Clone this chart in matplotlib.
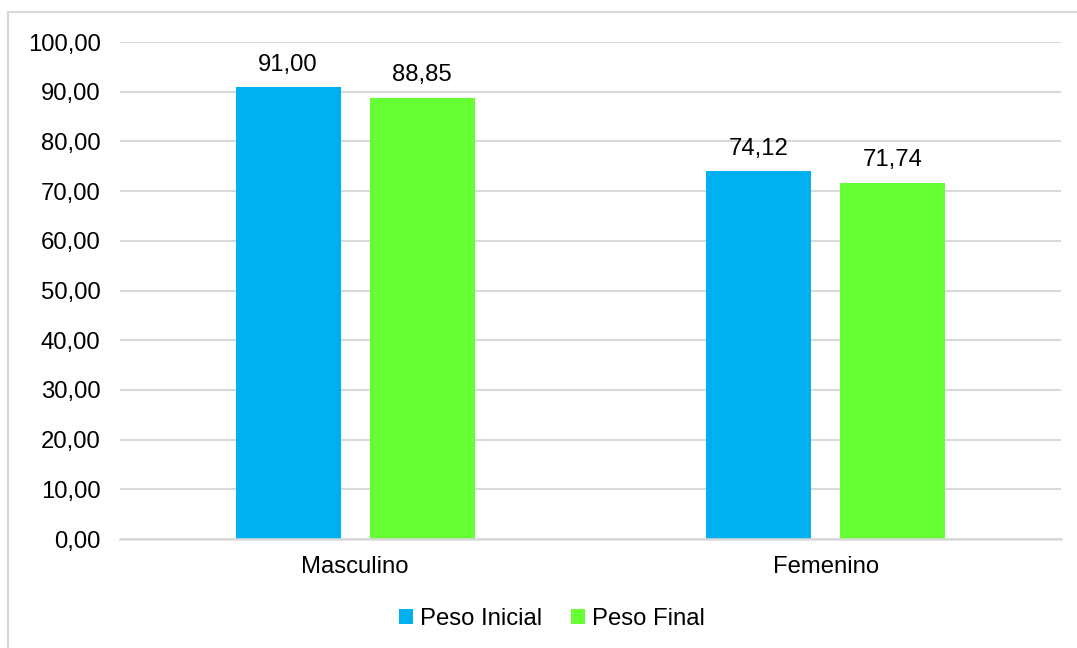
import matplotlib.pyplot as plt
import numpy as np
from matplotlib.patches import Rectangle

plt.rcParams['font.family'] = ['Liberation Sans', 'DejaVu Sans']

categorias = ['Masculino', 'Femenino']
peso_inicial = [91.00, 74.12]
peso_final = [88.85, 71.74]
series = ['Peso Inicial', 'Peso Final']
colores = ['#00B0F0', '#66FF33']


def fmt(v):
    return f'{v:.2f}'.replace('.', ',')


fig = plt.figure(figsize=(10.77, 6.48), dpi=100)
ax = fig.add_axes([0.1114, 0.1682, 0.8736, 0.7668])

# marco gris del grafico
fig.patches.append(Rectangle((8 / 1077, -0.01), 1.1, 1 - 12 / 648 + 0.01,
                             transform=fig.transFigure, fill=False,
                             edgecolor='#D9D9D9', linewidth=1.5))

x = np.arange(len(categorias))
ancho = 0.223
sep = 0.062
b1 = ax.bar(x - (ancho + sep) / 2, peso_inicial, ancho, color=colores[0], label=series[0])
b2 = ax.bar(x + (ancho + sep) / 2, peso_final, ancho, color=colores[1], label=series[1])

fs = 17.2
for barras, vals in ((b1, peso_inicial), (b2, peso_final)):
    for b, v in zip(barras, vals):
        ax.annotate(fmt(v), (b.get_x() + b.get_width() / 2, v), xytext=(0, 8),
                    textcoords='offset points', ha='center', va='bottom', fontsize=fs)

ax.set_xlim(-0.5, 1.5)
ax.set_ylim(0, 100)
ax.set_yticks(np.arange(0, 101, 10))
ax.set_yticklabels([fmt(v) for v in np.arange(0, 101, 10)])
ax.set_xticks(x)
ax.set_xticklabels(categorias)
ax.tick_params(axis='both', length=0, labelsize=fs, colors='black')
ax.tick_params(axis='y', pad=14)
ax.tick_params(axis='x', pad=12)
ax.grid(axis='y', color='#D9D9D9', linewidth=1.5)
ax.set_axisbelow(True)
for s in ('top', 'right', 'left'):
    ax.spines[s].set_visible(False)
ax.spines['bottom'].set_color('#D9D9D9')
ax.spines['bottom'].set_linewidth(1.8)

fig.legend(loc='center', bbox_to_anchor=(552 / 1077, 1 - 619 / 648), ncol=2,
           frameon=False, fontsize=fs, handlelength=0.6, handleheight=0.6,
           handletextpad=0.3, columnspacing=1.2)

fig.savefig('out.png', dpi=100)
